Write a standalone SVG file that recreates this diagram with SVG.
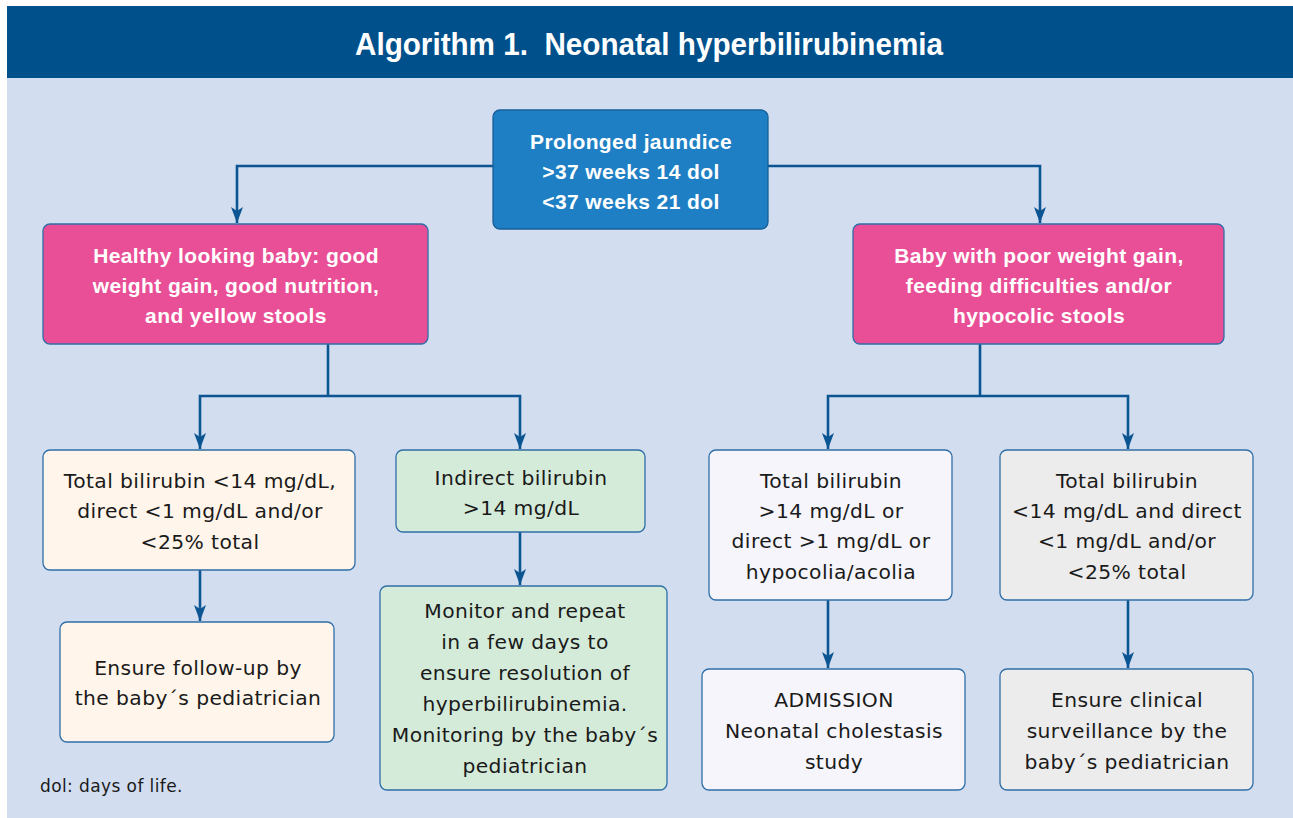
<svg xmlns="http://www.w3.org/2000/svg" width="1293" height="818" viewBox="0 0 1293 818">
<defs>
<marker id="ah" markerWidth="16" markerHeight="12" refX="16" refY="6" orient="auto" markerUnits="userSpaceOnUse" viewBox="0 0 16 12">
<path d="M0,0 L16,6 L0,12 L4,6 Z" fill="#0b5592"/>
</marker>
</defs>
<style>
.bg{fill:#d2ddf0}
.hdr{fill:#00508c}
.title{font-family:"Liberation Sans",Arial,sans-serif;font-weight:bold;font-size:32px;fill:#ffffff}
.box{stroke:#2f6ea6;stroke-width:1.3}
.blue{fill:#1f7fc4;stroke:#175f99}
.pink{fill:#e94f96;stroke:#2f6ea6}
.cream{fill:#fff5ea}
.green{fill:#d5ebd9}
.white{fill:#f5f5fb}
.gray{fill:#ececec}
.wt{font-family:"Liberation Sans",Arial,sans-serif;font-weight:bold;font-size:21px;letter-spacing:0.4px;fill:#ffffff;text-anchor:middle;dominant-baseline:central}
.bt{font-family:"DejaVu Sans",Verdana,sans-serif;font-size:20.3px;letter-spacing:0.4px;fill:#1a1a1a;text-anchor:middle;dominant-baseline:central}
.note{font-family:"DejaVu Sans",Verdana,sans-serif;font-size:17px;letter-spacing:0.4px;fill:#1a1a1a}
.ln{fill:none;stroke:#0b5592;stroke-width:2.6}
</style>
<rect x="0" y="0" width="1293" height="818" fill="#ffffff"/>
<rect class="bg" x="7" y="78" width="1286" height="740"/>
<rect class="hdr" x="7" y="6" width="1286" height="72"/>
<text class="title" x="355" y="55" textLength="588" lengthAdjust="spacingAndGlyphs" xml:space="preserve">Algorithm 1.  Neonatal hyperbilirubinemia</text>

<g id="connectors">
<path class="ln" d="M493,166 H237 V223" marker-end="url(#ah)"/>
<path class="ln" d="M768,166 H1040 V223" marker-end="url(#ah)"/>
<path class="ln" d="M328,344 V396"/>
<path class="ln" d="M328,396 H200 V449" marker-end="url(#ah)"/>
<path class="ln" d="M328,396 H520 V449" marker-end="url(#ah)"/>
<path class="ln" d="M980,344 V396"/>
<path class="ln" d="M980,396 H828 V449" marker-end="url(#ah)"/>
<path class="ln" d="M980,396 H1128 V449" marker-end="url(#ah)"/>
<path class="ln" d="M200,570 V621" marker-end="url(#ah)"/>
<path class="ln" d="M520,532 V585" marker-end="url(#ah)"/>
<path class="ln" d="M828,600 V668" marker-end="url(#ah)"/>
<path class="ln" d="M1128,600 V668" marker-end="url(#ah)"/>
</g>

<g id="n-top">
<rect class="box blue" x="493" y="110" width="275" height="119" rx="7"/>
<text class="wt" x="631" y="141">Prolonged jaundice</text>
<text class="wt" x="631" y="171">&gt;37 weeks 14 dol</text>
<text class="wt" x="631" y="201">&lt;37 weeks 21 dol</text>
</g>

<g id="n-healthy">
<rect class="box pink" x="43" y="224" width="385" height="120" rx="7"/>
<text class="wt" x="236" y="255">Healthy looking baby: good</text>
<text class="wt" x="236" y="285">weight gain, good nutrition,</text>
<text class="wt" x="236" y="315">and yellow stools</text>
</g>

<g id="n-poor">
<rect class="box pink" x="853" y="224" width="371" height="120" rx="7"/>
<text class="wt" x="1039" y="255">Baby with poor weight gain,</text>
<text class="wt" x="1039" y="285">feeding difficulties and/or</text>
<text class="wt" x="1039" y="315">hypocolic stools</text>
</g>

<g id="n-a1">
<rect class="box cream" x="43" y="450" width="312" height="120" rx="7"/>
<text class="bt" x="200" y="481">Total bilirubin &lt;14 mg/dL,</text>
<text class="bt" x="200" y="511">direct &lt;1 mg/dL and/or</text>
<text class="bt" x="200" y="542">&lt;25% total</text>
</g>

<g id="n-b1">
<rect class="box green" x="396" y="450" width="249" height="82" rx="7"/>
<text class="bt" x="521" y="478">Indirect bilirubin</text>
<text class="bt" x="521" y="508">&gt;14 mg/dL</text>
</g>

<g id="n-c1">
<rect class="box white" x="709" y="450" width="243" height="150" rx="7"/>
<text class="bt" x="831" y="481">Total bilirubin</text>
<text class="bt" x="831" y="511">&gt;14 mg/dL or</text>
<text class="bt" x="831" y="541">direct &gt;1 mg/dL or</text>
<text class="bt" x="831" y="572">hypocolia/acolia</text>
</g>

<g id="n-d1">
<rect class="box gray" x="1000" y="450" width="253" height="150" rx="7"/>
<text class="bt" x="1127" y="481">Total bilirubin</text>
<text class="bt" x="1127" y="511">&lt;14 mg/dL and direct</text>
<text class="bt" x="1127" y="541">&lt;1 mg/dL and/or</text>
<text class="bt" x="1127" y="572">&lt;25% total</text>
</g>

<g id="n-a2">
<rect class="box cream" x="60" y="622" width="274" height="120" rx="7"/>
<text class="bt" x="198" y="668">Ensure follow-up by</text>
<text class="bt" x="198" y="698">the baby´s pediatrician</text>
</g>

<g id="n-b2">
<rect class="box green" x="380" y="586" width="287" height="204" rx="7"/>
<text class="bt" x="525" y="611">Monitor and repeat</text>
<text class="bt" x="525" y="642">in a few days to</text>
<text class="bt" x="525" y="673">ensure resolution of</text>
<text class="bt" x="525" y="704">hyperbilirubinemia.</text>
<text class="bt" x="525" y="735">Monitoring by the baby´s</text>
<text class="bt" x="525" y="766">pediatrician</text>
</g>

<g id="n-c2">
<rect class="box white" x="702" y="669" width="263" height="121" rx="7"/>
<text class="bt" x="834" y="700">ADMISSION</text>
<text class="bt" x="834" y="731">Neonatal cholestasis</text>
<text class="bt" x="834" y="762">study</text>
</g>

<g id="n-d2">
<rect class="box gray" x="1000" y="669" width="253" height="121" rx="7"/>
<text class="bt" x="1127" y="700">Ensure clinical</text>
<text class="bt" x="1127" y="731">surveillance by the</text>
<text class="bt" x="1127" y="762">baby´s pediatrician</text>
</g>

<text class="note" x="40" y="792">dol: days of life.</text>
</svg>
